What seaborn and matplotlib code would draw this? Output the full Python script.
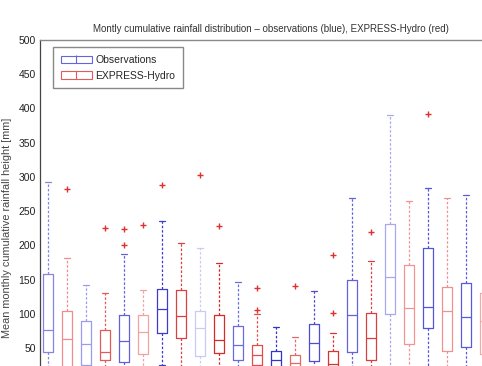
import pandas as pd
import numpy as np
import matplotlib
matplotlib.use('Agg')
import matplotlib.pyplot as plt
import seaborn as sns
from matplotlib.patches import Patch
from matplotlib.lines import Line2D

box_ids = list(range(24))
whisker_low = [8, 5, 5, 10, 5, 10, 25, 15, 10, 5, 5, 8,
               5, 5, 5, 5, 5, 10, 20, 10, 15, 5, 5, 5]
q1 = [45, 20, 25, 33, 30, 42, 72, 65, 38, 43, 33, 25,
      20, 18, 31, 16, 45, 33, 100, 56, 80, 46, 52, 42]
median = [76, 63, 56, 45, 60, 74, 107, 97, 79, 62, 54, 40,
          33, 29, 58, 27, 98, 65, 154, 109, 110, 104, 95, 90]
q3 = [159, 104, 90, 76, 98, 98, 136, 135, 104, 99, 82, 54,
      46, 40, 85, 46, 149, 101, 231, 172, 196, 139, 145, 131]
whisker_high = [293, 182, 143, 131, 188, 135, 235, 203, 196, 174, 146, 100,
                81, 66, 133, 72, 270, 177, 391, 265, 284, 270, 273, 250]
box_colors = ['#8585e6', '#f28c8c', '#9c9cee', '#e25a5a', '#6060dc', '#f2a2a2',
              '#3c3ccc', '#d94040', '#cacaf6', '#d42a2a', '#6a6ae0', '#e24c4c',
              '#3434c8', '#e46a6a', '#4c4cd4', '#d83434', '#6262de', '#d84040',
              '#a8a8f0', '#f29494', '#5454d8', '#f09090', '#5a5adc', '#f4a8a8']

flier_box = [1, 3, 4, 4, 5, 6, 8, 9, 11, 11, 13, 15, 15, 17, 20]
flier_value = [282, 226, 224, 200, 230, 289, 303, 228, 106, 138, 141, 101, 186, 220, 392]

rows = []
for b in box_ids:
    for v in [whisker_low[b], q1[b], median[b], q3[b], whisker_high[b]]:
        rows.append({'box': b, 'value': v})
df = pd.DataFrame(rows)

sns.set_style('white')
plt.rcParams['font.family'] = ['Liberation Sans', 'DejaVu Sans']

fig = plt.figure(figsize=(4.82, 3.66), dpi=100)
ax = fig.add_axes([40 / 482, 0, 1.0, 326 / 366])

sns.boxplot(data=df, x='box', y='value', hue='box',
            palette=dict(zip(box_ids, box_colors)), fill=False,
            whis=(0, 100), showfliers=False, width=0.55, linewidth=0.9,
            legend=False, whiskerprops={'linestyle': (0, (2, 1.5))}, ax=ax)
sns.scatterplot(x=flier_box, y=flier_value, marker='+', color='#e03030',
                s=24, linewidth=1, legend=False, zorder=5, ax=ax)

ax.set_xlim(-0.42, 24.95)
ax.set_ylim(24, 500)
ax.set_yticks(np.arange(50, 501, 50))
ax.set_xticks([])
ax.set_xlabel('')
ax.set_ylabel('Mean monthly cumulative rainfall height [mm]', fontsize=7.8, color='#444444')
ax.yaxis.set_label_coords(-0.058, 0.425)
ax.tick_params(axis='y', direction='in', length=3, width=0.8, labelsize=7.5,
               labelcolor='#222222', color='#444444', pad=3)
ax.spines['bottom'].set_visible(False)
ax.spines['right'].set_visible(False)
ax.spines['left'].set_color('#444444')
ax.spines['left'].set_linewidth(0.9)
ax.spines['top'].set_color('#8a8a8a')
ax.spines['top'].set_linewidth(1)

fig.text(271 / 482, 1 - 29 / 366,
         'Montly cumulative rainfall distribution – observations (blue), EXPRESS-Hydro (red)',
         ha='center', va='center', fontsize=7, color='#333333')

blue = '#6464e4'
red = '#e45a5a'
obs = (Patch(facecolor='none', edgecolor=blue, lw=0.8),
       Line2D([], [], color=blue, marker='|', ls='none', markersize=5.5, mew=0.8))
sim = (Patch(facecolor='none', edgecolor=red, lw=0.8),
       Line2D([], [], color=red, marker='|', ls='none', markersize=5.5, mew=0.8))
leg = ax.legend([obs, sim], ['Observations', 'EXPRESS-Hydro'], loc='upper left',
                bbox_to_anchor=((53 - 40) / 482, (366 - 47) / 326), borderaxespad=0,
                fontsize=7.5, handlelength=3, handletextpad=0.3, borderpad=0.75,
                labelspacing=0.55, fancybox=False, edgecolor='#888888', framealpha=1)
leg.get_frame().set_linewidth(1)

plt.savefig('out.png', dpi=100)
